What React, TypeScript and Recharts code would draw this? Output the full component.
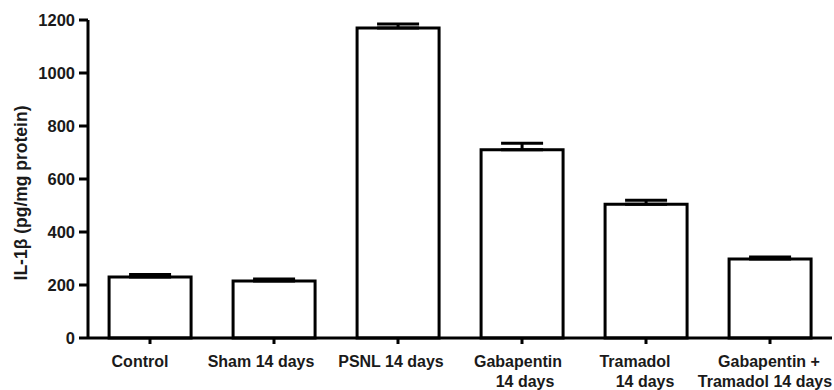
import React from "react";
import { BarChart, Bar, XAxis, YAxis, ErrorBar } from "recharts";

const categories = [
  ["Control"],
  ["Sham 14 days"],
  ["PSNL 14 days"],
  ["Gabapentin", "14 days"],
  ["Tramadol", "14 days"],
  ["Gabapentin +", "Tramadol 14 days"],
];
const means = [230, 215, 1170, 710, 505, 298];
const sems = [10, 8, 15, 25, 15, 8];
const yTicks = [0, 200, 400, 600, 800, 1000, 1200];
const yLabel = "IL-1β (pg/mg protein)";

// per-line horizontal offsets for the x tick labels (layout only)
const lineOffsets: number[][] = [[-10], [-13], [-7], [-4, 3], [-11, -1], [-1, -5]];

const data = categories.map((c, i) => ({
  name: String(i),
  value: means[i],
  err: [0, sems[i]],
}));

const FONT = "'Liberation Sans', Arial, sans-serif";

const XTick = (props: any) => {
  const { x, y, payload } = props;
  const idx = Number(payload.value);
  const lines = categories[idx] || [];
  return (
    <g>
      {lines.map((ln, j) => (
        <text
          key={j}
          x={x + (lineOffsets[idx]?.[j] ?? 0)}
          y={y + 21 + j * 20}
          textAnchor="middle"
          fontFamily={FONT}
          fontSize={16}
          fontWeight="bold"
          fill="#1a1a1a"
        >
          {ln}
        </text>
      ))}
    </g>
  );
};

const YLabel = (props: any) => {
  const vb = props.viewBox || {};
  const cx = 21;
  const cy = (vb.y ?? 20) + (vb.height ?? 318) / 2 + 14;
  return (
    <text
      x={cx}
      y={cy}
      transform={`rotate(-90 ${cx} ${cy})`}
      textAnchor="middle"
      dominantBaseline="central"
      fontFamily={FONT}
      fontSize={17.5}
      fontWeight="bold"
      fill="#1a1a1a"
    >
      {yLabel}
    </text>
  );
};

export default function App() {
  return (
    <div style={{ position: "absolute", left: 0, top: 0, width: 834, height: 390, background: "#fff" }}>
      <BarChart
        width={834}
        height={390}
        data={data}
        margin={{ top: 20, right: 2, bottom: 2, left: 0 }}
        barCategoryGap="17%"
      >
        <XAxis
          dataKey="name"
          tick={<XTick />}
          tickSize={6}
          axisLine={{ stroke: "#000", strokeWidth: 3 }}
          tickLine={{ stroke: "#000", strokeWidth: 3 }}
          height={50}
          interval={0}
        />
        <YAxis
          domain={[0, 1200]}
          ticks={yTicks}
          width={88}
          tickSize={9}
          tickMargin={4}
          axisLine={{ stroke: "#000", strokeWidth: 3 }}
          tickLine={{ stroke: "#000", strokeWidth: 3 }}
          tick={{ fontFamily: FONT, fontSize: 16.5, fontWeight: "bold", fill: "#1a1a1a" }}
          label={<YLabel />}
        />
        <Bar dataKey="value" fill="#fff" stroke="#000" strokeWidth={3} isAnimationActive={false}>
          <ErrorBar dataKey="err" direction="y" width={21} stroke="#000" strokeWidth={3} isAnimationActive={false} />
        </Bar>
      </BarChart>
    </div>
  );
}
